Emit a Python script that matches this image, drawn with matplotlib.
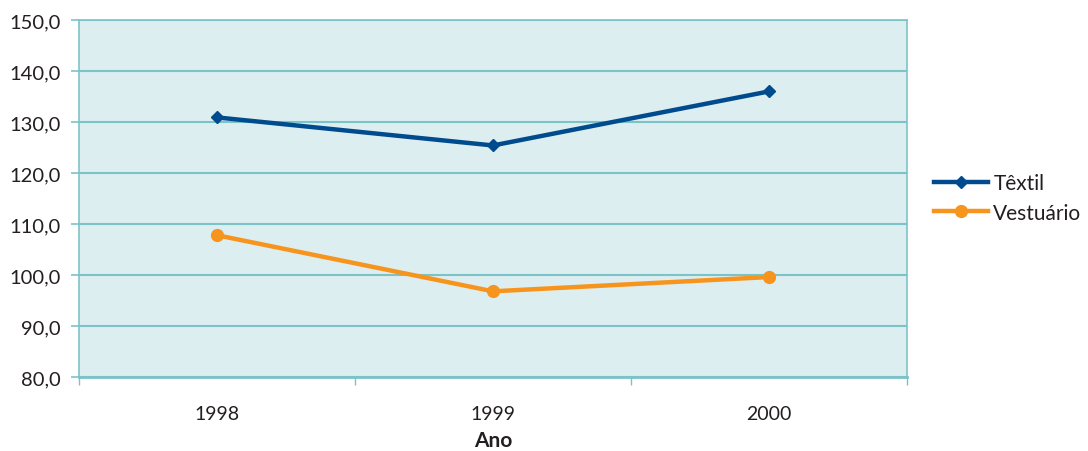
import matplotlib
matplotlib.use("Agg")
import matplotlib.pyplot as plt
from matplotlib.ticker import FixedLocator, FuncFormatter

years = ["1998", "1999", "2000"]
textil = [130.9, 125.4, 136.0]
vestuario = [107.8, 96.8, 99.6]

y_ticks = [80, 90, 100, 110, 120, 130, 140, 150]

plt.rcParams["font.family"] = ["Lato", "DejaVu Sans"]

grid_color = "#7cc3c8"
bg_color = "#ddeef1"
blue = "#004b8d"
orange = "#f7941d"
text_color = "#231f20"

fig = plt.figure(figsize=(10.88, 4.52), dpi=100)
ax = fig.add_axes([79 / 1088, 1 - 378 / 452, 828 / 1088, 357 / 452])
ax.set_facecolor(bg_color)

x = list(range(len(years)))
ax.plot(x, textil, color=blue, lw=3.2, marker="D", ms=6.5, label="Têxtil", zorder=3)
ax.plot(x, vestuario, color=orange, lw=3.2, marker="o", ms=8.5, label="Vestuário", zorder=3)

ax.set_xlim(-0.5, len(years) - 0.5)
ax.set_ylim(80, 150)

ax.yaxis.set_major_locator(FixedLocator(y_ticks))
ax.yaxis.set_major_formatter(FuncFormatter(lambda v, p: f"{v:.1f}".replace(".", ",")))
ax.grid(axis="y", color=grid_color, lw=1.5)
ax.set_axisbelow(True)

ax.set_xticks(x)
ax.set_xticklabels(years)
ax.xaxis.set_minor_locator(FixedLocator([i - 0.5 for i in range(len(years) + 1)]))
ax.tick_params(axis="x", which="major", length=0, pad=20, labelsize=14, labelcolor=text_color)
ax.tick_params(axis="x", which="minor", length=6, width=1, color=grid_color)
ax.tick_params(axis="y", length=6, width=1.2, color=grid_color, pad=7, labelsize=14.5, labelcolor=text_color)

for s in ax.spines.values():
    s.set_color(grid_color)
    s.set_linewidth(1.2)
ax.spines["bottom"].set_linewidth(2)

ax.set_xlabel("Ano", fontsize=15, fontweight="bold", color=text_color, labelpad=6)

fig.legend(loc="center left", bbox_to_anchor=(934 / 1088, 1 - 199 / 452), frameon=False,
           fontsize=15, handlelength=2.6, handletextpad=0.25, labelspacing=0.45,
           labelcolor=text_color, borderaxespad=0, borderpad=0)

fig.savefig("out.png", dpi=100)
